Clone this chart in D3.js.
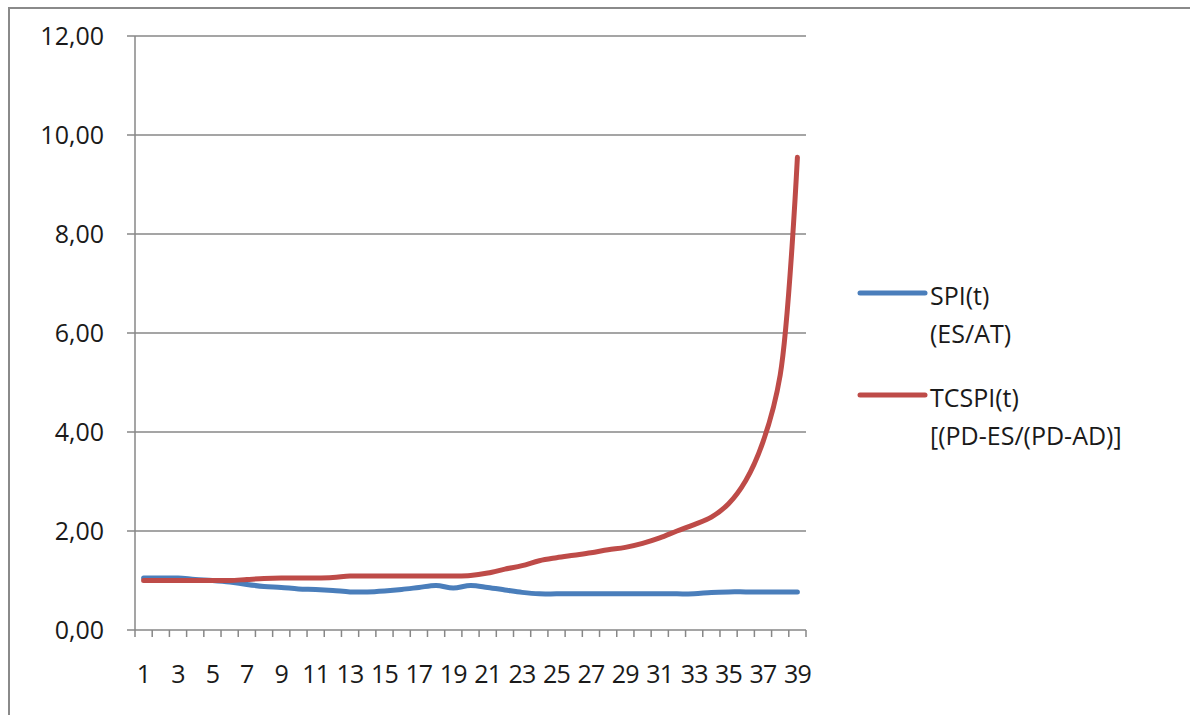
<!DOCTYPE html>
<html><head><meta charset="utf-8">
<script src="https://cdn.jsdelivr.net/npm/d3@7"></script>
<style>
html,body{margin:0;padding:0;background:#fff;}
svg{display:block;}
</style></head>
<body>
<svg id="chart" width="1190" height="715"></svg>
<script>
const categories = d3.range(1, 40);
const spiValues = [1.05,1.05,1.05,1.02,1.00,0.97,0.92,0.88,0.86,0.83,0.82,0.80,0.77,0.77,0.79,0.82,0.86,0.90,0.85,0.90,0.86,0.81,0.76,0.73,0.73,0.73,0.73,0.73,0.73,0.73,0.73,0.73,0.73,0.76,0.77,0.77,0.77,0.77,0.77];
const tcspiValues = [1.00,1.00,1.00,1.00,1.00,1.00,1.02,1.04,1.05,1.05,1.05,1.06,1.09,1.09,1.09,1.09,1.09,1.09,1.09,1.10,1.15,1.23,1.30,1.40,1.46,1.51,1.56,1.62,1.67,1.75,1.86,2.00,2.13,2.28,2.55,3.02,3.80,5.15,9.55];
const yTicks = [0, 2, 4, 6, 8, 10, 12];
const seriesNames = [["SPI(t)", "(ES/AT)"], ["TCSPI(t)", "[(PD-ES/(PD-AD)]"]];
const seriesColors = ["#4A7EBB", "#BE4B48"];

const svg = d3.select("#chart");
const font = "'Open Sans', Lato, sans-serif";

// outer frame
svg.append("rect").attr("x", 9).attr("y", 8).attr("width", 1200).attr("height", 720)
  .attr("fill", "none").attr("stroke", "#8a8a8a").attr("stroke-width", 2);

const plotLeft = 135, plotRight = 806, plotTop = 36, plotBottom = 630;
const x = d3.scaleBand().domain(categories).range([plotLeft, plotRight]).paddingInner(0).paddingOuter(0);
const y = d3.scaleLinear().domain([0, 12]).range([plotBottom, plotTop]);

// gridlines
svg.append("g").selectAll("line").data(yTicks).join("line")
  .attr("x1", plotLeft - 8).attr("x2", plotRight)
  .attr("y1", d => y(d)).attr("y2", d => y(d))
  .attr("stroke", "#878787").attr("stroke-width", 1.5);

// y axis labels
const fmt = d => d3.format(".2f")(d).replace(".", ",");
svg.append("g").selectAll("text").data(yTicks).join("text")
  .attr("x", 104).attr("y", d => y(d)).attr("dy", "0.36em")
  .attr("text-anchor", "end").attr("font-family", font).attr("font-size", 25)
  .attr("fill", "#1a1a1a").text(fmt);

// y axis line
svg.append("line").attr("x1", plotLeft).attr("x2", plotLeft).attr("y1", plotTop).attr("y2", plotBottom)
  .attr("stroke", "#878787").attr("stroke-width", 1.5);

// x axis ticks
const edges = categories.map(c => x(c)).concat([plotRight]);
svg.append("g").selectAll("line").data(edges).join("line")
  .attr("x1", d => d).attr("x2", d => d).attr("y1", plotBottom).attr("y2", plotBottom + 7)
  .attr("stroke", "#878787").attr("stroke-width", 1.5);

// x labels
svg.append("g").selectAll("text").data(categories.filter(c => c % 2 === 1)).join("text")
  .attr("x", d => x(d) + x.bandwidth() / 2).attr("y", 683)
  .attr("text-anchor", "middle").attr("font-family", font).attr("font-size", 25)
  .attr("letter-spacing", "-0.8px")
  .attr("fill", "#1a1a1a").text(d => d);

// lines
const line = d3.line()
  .x((d, i) => x(categories[i]) + x.bandwidth() / 2)
  .y(d => y(d))
  .curve(d3.curveCatmullRom.alpha(0.5));

[spiValues, tcspiValues].forEach((vals, k) => {
  svg.append("path").datum(vals).attr("d", line)
    .attr("fill", "none").attr("stroke", seriesColors[k]).attr("stroke-width", 5)
    .attr("stroke-linecap", "round").attr("stroke-linejoin", "round");
});

// legend
const legendY = [293, 395];
seriesNames.forEach((names, k) => {
  const g = svg.append("g");
  g.append("line").attr("x1", 860).attr("x2", 925).attr("y1", legendY[k]).attr("y2", legendY[k])
    .attr("stroke", seriesColors[k]).attr("stroke-width", 5).attr("stroke-linecap", "round");
  names.forEach((t, j) => {
    g.append("text").attr("x", 930).attr("y", legendY[k] + 3 + j * 38).attr("dy", "0.36em")
      .attr("font-family", font).attr("font-size", 25).attr("fill", "#1a1a1a").text(t);
  });
});
</script>
</body></html>
